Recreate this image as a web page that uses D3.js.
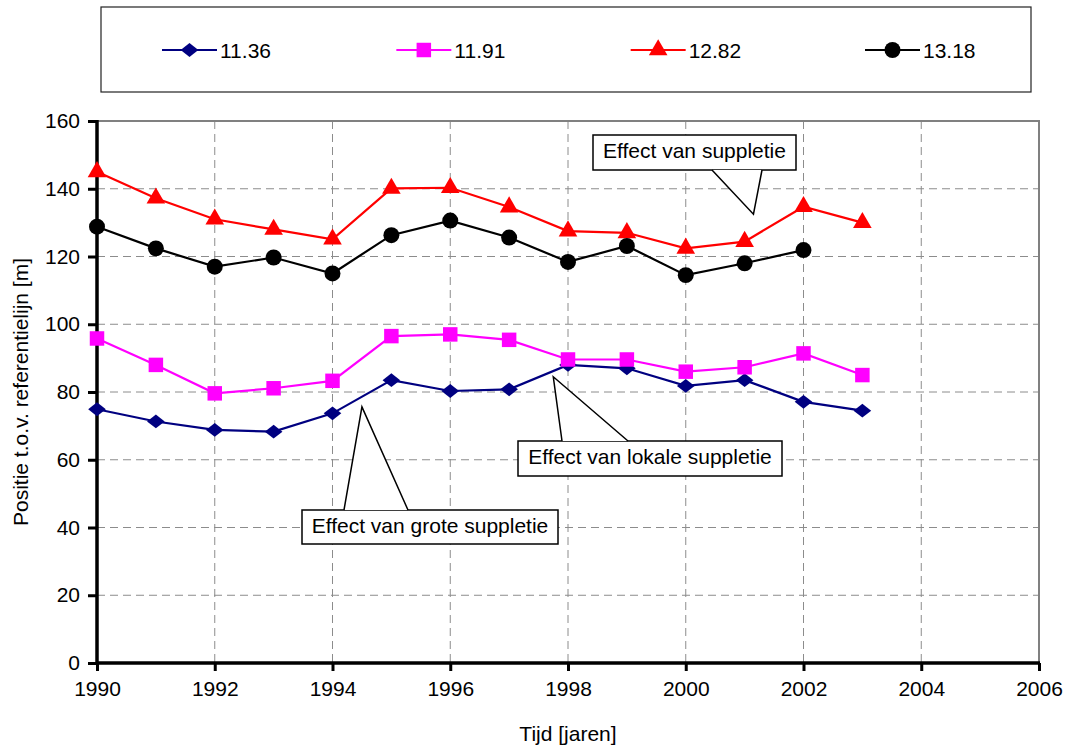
<!DOCTYPE html>
<html>
<head>
<meta charset="utf-8">
<script src="https://cdn.jsdelivr.net/npm/d3@7"></script>
<style>
  html, body { margin: 0; padding: 0; background: #fff; }
  svg { display: block; font-family: "Liberation Sans", Arial, sans-serif; }
</style>
</head>
<body>
<svg id="chart" width="1073" height="751"></svg>
<script>
// Jaren van meting
const years = [1990, 1991, 1992, 1993, 1994, 1995, 1996, 1997, 1998, 1999, 2000, 2001, 2002, 2003];

// Positie t.o.v. referentielijn [m] per raai
const series1136 = [74.9, 71.3, 68.8, 68.3, 73.7, 83.5, 80.3, 80.8, 88.0, 87.0, 81.8, 83.5, 77.1, 74.5];
const series1191 = [95.8, 88.0, 79.6, 81.1, 83.3, 96.5, 97.0, 95.4, 89.6, 89.6, 86.0, 87.3, 91.4, 85.0];
const series1282 = [145.0, 137.2, 131.0, 128.0, 125.1, 140.1, 140.3, 134.6, 127.5, 127.0, 122.4, 124.4, 134.7, 130.0];
const series1318 = [128.8, 122.4, 117.0, 119.7, 115.0, 126.3, 130.6, 125.6, 118.4, 123.1, 114.5, 118.0, 121.9, null];

const seriesNames = ["11.36", "11.91", "12.82", "13.18"];
const xTicks = [1990, 1992, 1994, 1996, 1998, 2000, 2002, 2004, 2006];
const yTicks = [0, 20, 40, 60, 80, 100, 120, 140, 160];

// Tekstballonnen: label, en het punt (jaar, waarde) waar de pijl naar wijst
const calloutLabels = ["Effect van suppletie", "Effect van lokale suppletie", "Effect van grote suppletie"];
const calloutTargets = [[2001.15, 132.5], [1997.75, 84.5], [1994.5, 75.6]];

const FONT = 21;
const svg = d3.select("#chart");
const margin = { left: 97, right: 1039, top: 121, bottom: 663 };

const x = d3.scaleLinear().domain([1990, 2006]).range([margin.left, margin.right]);
const y = d3.scaleLinear().domain([0, 160]).range([margin.bottom, margin.top]);

const styles = [
  { color: "#000080", symbol: d3.symbolDiamond2, size: 150, ratio: 0.75 },
  { color: "#FF00FF", symbol: d3.symbolSquare, size: 210 },
  { color: "#FF0000", symbol: d3.symbolTriangle, size: 150 },
  { color: "#000000", symbol: d3.symbolCircle, size: 200 }
];
const data = [series1136, series1191, series1282, series1318];

// Rasterlijnen
const grid = svg.append("g");
grid.selectAll("line.h").data(yTicks.filter(t => t > 0 && t < 160)).join("line")
  .attr("x1", margin.left).attr("x2", margin.right)
  .attr("y1", d => y(d)).attr("y2", d => y(d))
  .attr("stroke", "#8c8c8c").attr("stroke-width", 1).attr("stroke-dasharray", "8,5");
grid.selectAll("line.v").data(xTicks.filter(t => t > 1990 && t < 2006)).join("line")
  .attr("x1", d => x(d)).attr("x2", d => x(d))
  .attr("y1", margin.top).attr("y2", margin.bottom)
  .attr("stroke", "#8c8c8c").attr("stroke-width", 1).attr("stroke-dasharray", "8,5");

// Kader van het plotgebied (boven en rechts)
svg.append("path")
  .attr("d", `M${margin.left},${margin.top}H${margin.right}V${margin.bottom}`)
  .attr("fill", "none").attr("stroke", "#808080").attr("stroke-width", 2);

// Assen
const yAxis = svg.append("g").attr("transform", `translate(${margin.left},0)`)
  .call(d3.axisLeft(y).tickValues(yTicks).tickSize(9).tickPadding(8));
const xAxis = svg.append("g").attr("transform", `translate(0,${margin.bottom})`)
  .call(d3.axisBottom(x).tickValues(xTicks).tickFormat(d3.format("d")).tickSize(8).tickPadding(10));
[yAxis, xAxis].forEach(g => {
  g.attr("font-size", FONT).attr("font-family", "'Liberation Sans', Arial, sans-serif");
  g.select(".domain").attr("stroke", "#000").attr("stroke-width", 3.5);
  g.selectAll(".tick line").attr("stroke", "#000").attr("stroke-width", 3);
  g.selectAll(".tick text").attr("fill", "#000");
});
yAxis.select(".domain").attr("d", `M0,${margin.top - 1}V${margin.bottom + 1}`);
xAxis.select(".domain").attr("d", `M${margin.left - 1},0H${margin.right + 1}`);

// Astitels
svg.append("text").attr("x", 568).attr("y", 741).attr("text-anchor", "middle")
  .attr("font-size", FONT).text("Tijd [jaren]");
svg.append("text").attr("transform", "translate(28,392) rotate(-90)").attr("text-anchor", "middle")
  .attr("font-size", FONT).text("Positie t.o.v. referentielijn [m]");

// Reeksen
const line = d3.line().defined(d => d[1] != null).x(d => x(d[0])).y(d => y(d[1]));
data.forEach((vals, i) => {
  const pts = years.map((yr, k) => [yr, vals[k]]);
  const st = styles[i];
  const g = svg.append("g");
  g.append("path").datum(pts).attr("d", line)
    .attr("fill", "none").attr("stroke", st.color).attr("stroke-width", 2.2);
  g.selectAll("path.m").data(pts.filter(p => p[1] != null)).join("path")
    .attr("d", d3.symbol().type(st.symbol).size(st.size))
    .attr("transform", d => `translate(${x(d[0])},${y(d[1])})` + (st.ratio ? ` scale(1.15,${st.ratio * 1.2})` : ""))
    .attr("fill", st.color);
});

// Legenda
const legend = svg.append("g");
legend.append("rect").attr("x", 101).attr("y", 7).attr("width", 930).attr("height", 85)
  .attr("fill", "#fff").attr("stroke", "#222").attr("stroke-width", 1.2);
const legendX = d3.scalePoint().domain(seriesNames).range([162, 865]);
seriesNames.forEach((name, i) => {
  const st = styles[i];
  const lx = legendX(name);
  const ly = 50;
  legend.append("line").attr("x1", lx).attr("x2", lx + 55).attr("y1", ly).attr("y2", ly)
    .attr("stroke", st.color).attr("stroke-width", 2.2);
  legend.append("path")
    .attr("d", d3.symbol().type(st.symbol).size(st.size))
    .attr("transform", `translate(${lx + 27.5},${ly})` + (st.ratio ? ` scale(1.15,${st.ratio * 1.2})` : ""))
    .attr("fill", st.color);
  legend.append("text").attr("x", lx + 58).attr("y", ly + 7.5).attr("font-size", FONT).text(name);
});

// Tekstballonnen met pijl
const calloutBoxes = [
  { x: 593, y: 135, w: 203, h: 35, base: [712, 762] },
  { x: 518, y: 441, w: 264, h: 35, base: [562, 628] },
  { x: 302, y: 510, w: 256, h: 34, base: [344, 408] }
];
calloutLabels.forEach((label, i) => {
  const b = calloutBoxes[i];
  const t = calloutTargets[i];
  const tx = x(t[0]), ty = y(t[1]);
  const g = svg.append("g");
  const edgeY = ty < b.y ? b.y : b.y + b.h;
  g.append("rect").attr("x", b.x).attr("y", b.y).attr("width", b.w).attr("height", b.h)
    .attr("fill", "#fff").attr("stroke", "#000").attr("stroke-width", 1.5);
  // wit stukje om de rand onder de pijl weg te halen
  g.append("path")
    .attr("d", `M${b.base[0]},${edgeY}L${tx},${ty}L${b.base[1]},${edgeY}Z`)
    .attr("fill", "#fff").attr("stroke", "none");
  g.append("path")
    .attr("d", `M${b.base[0]},${edgeY}L${tx},${ty}L${b.base[1]},${edgeY}`)
    .attr("fill", "none").attr("stroke", "#000").attr("stroke-width", 1.5);
  g.append("text").attr("x", b.x + b.w / 2).attr("y", b.y + 23).attr("text-anchor", "middle")
    .attr("font-size", FONT).text(label);
});
</script>
</body>
</html>
